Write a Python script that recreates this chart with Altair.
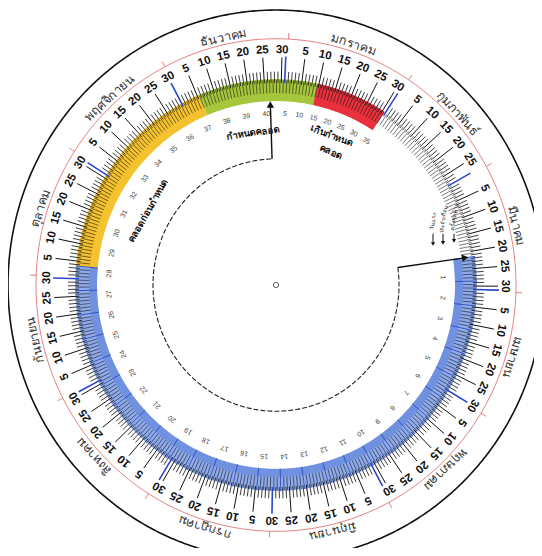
import altair as alt
import pandas as pd
import numpy as np

# ---------------- data read from the wheel ----------------
month_names = ["มกราคม", "กุมภาพันธ์", "มีนาคม", "เมษายน", "พฤษภาคม", "มิถุนายน",
               "กรกฎาคม", "สิงหาคม", "กันยายน", "ตุลาคม", "พฤศจิกายน", "ธันวาคม"]
month_days = [31, 28, 31, 30, 31, 30, 31, 31, 30, 31, 30, 31]
day_labels = [5, 10, 15, 20, 25, 30]
jan1_angle = 3.5      # degrees clockwise from 12 o'clock where 1 January sits
lmp_angle = 82.0      # inner disc: first day of last period (arrow on the right)
due_weeks = 40

band_names = ["ไตรมาส", "คลอดก่อนกำหนด", "ครบกำหนด", "เกินกำหนด"]
band_start_week = [0, 28, 37, 42]
band_end_week = [28, 37, 42, 45]
band_colors = ["#8eaaea", "#f4c22f", "#a6c73c", "#e8313c"]

week_labels = list(range(1, 41))
post_due_days = [5, 10, 15, 20, 25, 30, 35]

note_texts = ["กำหนดคลอด", "เกินกำหนด", "คลอด", "คลอดก่อนกำหนด"]
note_weeks = [39.0, 43.3, 43.6, 31.5]
lmp_note_texts = ["วันแรก", "ประจำเดือน", "ครั้งสุดท้าย"]

DPD = 360.0 / 365.0
THAI = "Noto Sans"
NUM = "Liberation Sans"

# ---------------- derived tables ----------------
day_rows = []
doy = 0
for mi, nd in enumerate(month_days):
    for k in range(1, nd + 1):
        doy += 1
        day_rows.append(dict(theta=jan1_angle + (doy - 1) * DPD, day=k, month=mi, nd=nd))
days = pd.DataFrame(day_rows)

tick_rows = []
for _, d in days.iterrows():
    if d.day == d.nd:
        tick_rows.append(dict(theta=d.theta, r1=197, r2=223, kind="end"))
    elif d.day % 5 == 0:
        tick_rows.append(dict(theta=d.theta, r1=197, r2=222, kind="five"))
    else:
        tick_rows.append(dict(theta=d.theta, r1=197, r2=208, kind="day"))
for dd in range(0, 365):
    th = lmp_angle + dd * DPD
    if dd % 7 == 0 and dd <= 196:
        tick_rows.append(dict(theta=th, r1=179, r2=201, kind="week"))
    else:
        tick_rows.append(dict(theta=th, r1=187, r2=200, kind="band"))
start = 1
for nd in month_days:
    tick_rows.append(dict(theta=jan1_angle + (start - 1.5) * DPD, r1=240, r2=246, kind="notch"))
    start += nd
ticks = pd.DataFrame(tick_rows)

tick_style = {
    "band": dict(color="#111111", strokeWidth=0.8, opacity=0.7),
    "week": dict(color="#2a49b8", strokeWidth=1.0, opacity=0.85),
    "day": dict(color="#111111", strokeWidth=0.9, opacity=0.9),
    "five": dict(color="#111111", strokeWidth=1.0, opacity=1.0),
    "end": dict(color="#2b47c9", strokeWidth=1.6, opacity=1.0),
    "notch": dict(color="#e07070", strokeWidth=0.9, opacity=1.0),
}

num_labels = days[days.day.isin(day_labels)].copy()
num_labels["label"] = num_labels.day.astype(str)
num_labels["r"] = 229

mon_rows = []
start = 1
for name, nd in zip(month_names, month_days):
    mid = start + (nd - 1) / 2.0
    mon_rows.append(dict(theta=jan1_angle + (mid - 1) * DPD, label=name, r=247))
    start += nd
months = pd.DataFrame(mon_rows)

band_rows = []
for name, s, e in zip(band_names, band_start_week, band_end_week):
    t0 = lmp_angle + s * 7 * DPD
    t1 = lmp_angle + e * 7 * DPD
    for th in np.linspace(t0, t1, int((t1 - t0) * 2) + 2):
        band_rows.append(dict(theta=th, r=190, seg=name))
band = pd.DataFrame(band_rows)

t0 = lmp_angle
t1 = lmp_angle + band_end_week[0] * 7 * DPD
shade = pd.DataFrame(dict(theta=np.linspace(t0, t1, int((t1 - t0) * 2) + 2), r=183))

due_angle = lmp_angle + due_weeks * 7 * DPD

ring_full = pd.DataFrame(dict(theta=np.linspace(0, 360, 721)))
outer_ring = ring_full.assign(r=268)
red_ring = ring_full.assign(r=240)
inner_arc = pd.DataFrame(dict(theta=np.linspace(lmp_angle, due_angle, 560), r=123))

week_df = pd.DataFrame(dict(label=[str(w) for w in week_labels],
                            theta=[lmp_angle + w * 7 * DPD - 1.5 for w in week_labels], r=167))
post_df = pd.DataFrame(dict(label=[str(d) for d in post_due_days],
                            theta=[due_angle + d * DPD for d in post_due_days], r=167))

notes = pd.DataFrame(dict(label=note_texts,
                          theta=[lmp_angle + w * 7 * DPD for w in note_weeks],
                          r=[150, 156, 141, 147]))

arrows = pd.DataFrame(dict(theta=[due_angle, lmp_angle], r1=[123, 123], r2=[178, 192]))
heads = pd.DataFrame(dict(theta=[due_angle, lmp_angle], r=[176, 191]))
center = pd.DataFrame(dict(theta=[0.0], r=[0.0]))

lmp_marks = pd.DataFrame(dict(label=lmp_note_texts, x=[157, 167, 178],
                              y1=[50, 50, 50], y2=[40, 41, 43], ty=[62, 64, 66]))

# ---------------- chart ----------------
XS = alt.Scale(domain=[-268, 258], nice=False, zero=False)
YS = alt.Scale(domain=[-256.3, 270], nice=False, zero=False)

SIN = "sin(datum.theta*PI/180)"
COS = "cos(datum.theta*PI/180)"


def pol(df):
    return alt.Chart(df).transform_calculate(x=f"datum.r*{SIN}", y=f"datum.r*{COS}")


def XY():
    return dict(x=alt.X("x:Q", scale=XS, axis=None), y=alt.Y("y:Q", scale=YS, axis=None))


def ring(df, color, width, dash=None):
    kw = dict(color=color, strokeWidth=width)
    if dash:
        kw["strokeDash"] = dash
    return pol(df).mark_line(**kw).encode(order=alt.Order("theta:Q"), **XY())


def rules(df, **style):
    return alt.Chart(df).transform_calculate(
        x=f"datum.r1*{SIN}", y=f"datum.r1*{COS}",
        x2=f"datum.r2*{SIN}", y2=f"datum.r2*{COS}",
    ).mark_rule(**style).encode(
        x=alt.X("x:Q", scale=XS, axis=None), y=alt.Y("y:Q", scale=YS, axis=None),
        x2="x2:Q", y2="y2:Q")


band_layer = pol(band).mark_line(strokeWidth=22, strokeCap="butt").encode(
    color=alt.Color("seg:N", scale=alt.Scale(domain=band_names, range=band_colors), legend=None),
    detail="seg:N", order=alt.Order("theta:Q"), **XY())

shade_layer = pol(shade).mark_line(strokeWidth=8, color="#5b7fd9", opacity=0.6,
                                   strokeCap="butt").encode(order=alt.Order("theta:Q"), **XY())

tick_layers = [rules(ticks[ticks.kind == k], **st) for k, st in tick_style.items()]

ANG = alt.Angle("theta:Q", scale=None)

num_layer = pol(num_labels).mark_text(font=NUM, fontSize=11.5, fontWeight="bold",
                                      color="#111", baseline="middle").encode(
    text="label:N", angle=ANG, **XY())

mon_layer = pol(months).mark_text(font=THAI, fontSize=12.5, color="#333",
                                  baseline="middle").encode(text="label:N", angle=ANG, **XY())

week_layer = pol(week_df).mark_text(font=NUM, fontSize=7, color="#444",
                                    baseline="middle").encode(text="label:N", angle=ANG, **XY())
post_layer = pol(post_df).mark_text(font=NUM, fontSize=7, color="#444",
                                    baseline="middle").encode(text="label:N", angle=ANG, **XY())

note_layer = pol(notes).mark_text(font=THAI, fontSize=9.5, fontWeight="bold", color="#111",
                                  baseline="middle").encode(text="label:N", angle=ANG, **XY())

arrow_layer = rules(arrows, color="#111", strokeWidth=1.4)

head_layer = pol(heads).mark_point(shape="triangle-up", filled=True, size=55,
                                   color="#111", opacity=1).encode(angle=ANG, **XY())

center_layer = pol(center).mark_point(shape="circle", filled=False, size=28,
                                      color="#222", strokeWidth=1).encode(**XY())

lmp_rules = alt.Chart(lmp_marks).mark_rule(color="#111", strokeWidth=1).encode(
    x=alt.X("x:Q", scale=XS, axis=None), y=alt.Y("y1:Q", scale=YS, axis=None), y2="y2:Q")
lmp_heads = alt.Chart(lmp_marks).mark_point(shape="triangle-down", filled=True, size=18,
                                            color="#111", opacity=1).encode(
    x=alt.X("x:Q", scale=XS, axis=None), y=alt.Y("y2:Q", scale=YS, axis=None))
lmp_text = alt.Chart(lmp_marks).mark_text(font=THAI, fontSize=5.5, color="#222", angle=280,
                                          baseline="middle").encode(
    x=alt.X("x:Q", scale=XS, axis=None), y=alt.Y("ty:Q", scale=YS, axis=None), text="label:N")

chart = alt.layer(
    band_layer, shade_layer, *tick_layers,
    ring(outer_ring, "#111", 1.6),
    ring(red_ring, "#e07070", 0.9),
    ring(inner_arc, "#222", 1.1, [5, 2]),
    num_layer, mon_layer, week_layer, post_layer, note_layer,
    arrow_layer, head_layer, center_layer,
    lmp_rules, lmp_heads, lmp_text,
).properties(
    width=526, height=540, padding=0,
    autosize=alt.AutoSizeParams(type="none"),
).configure_view(stroke=None)

chart.save("out.html", embed_options={"renderer": "svg", "actions": False})
